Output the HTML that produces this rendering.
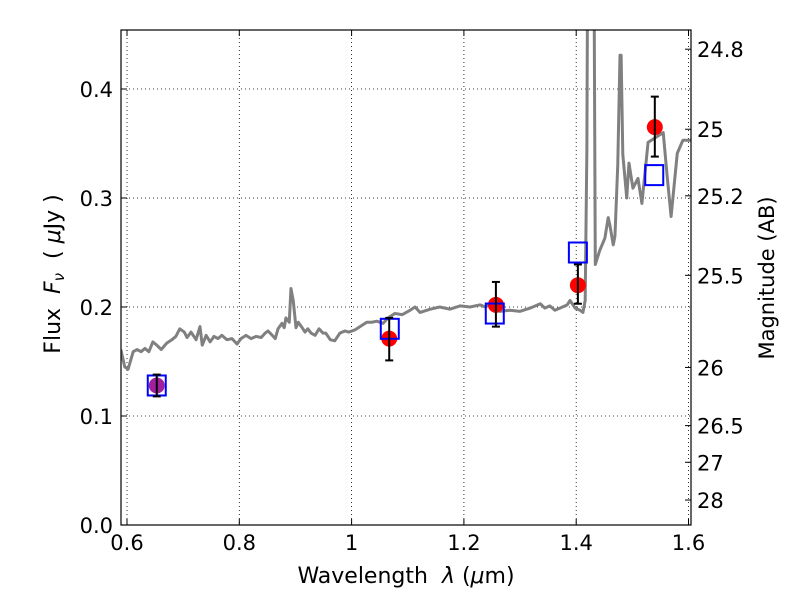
<!DOCTYPE html>
<html><head><meta charset="utf-8"><style>
body{margin:0;background:#fff;}
svg text{font-family:"DejaVu Sans","Liberation Sans",sans-serif;}
</style></head><body>
<svg id="chart" width="800" height="600" xmlns="http://www.w3.org/2000/svg">
<rect width="800" height="600" fill="#fff"/>
<defs><clipPath id="clip"><rect x="121" y="30" width="570" height="495"/></clipPath></defs>
<g id="grid"></g>
<g id="spec" clip-path="url(#clip)"></g>
<g id="marks"></g>
<rect x="121" y="30" width="570" height="495" fill="none" stroke="#000" stroke-width="1.2"/>
<g id="axes"></g>
<text x="406" y="583" font-size="22" text-anchor="middle">Wavelength&#160;&#160;<tspan font-style="italic">λ</tspan> (<tspan font-style="italic">μ</tspan>m)</text>
<text transform="translate(60,274) rotate(-90)" font-size="22" text-anchor="middle">Flux&#160;&#160;<tspan font-style="italic">F<tspan font-size="15" dy="4">ν</tspan></tspan><tspan dy="-4">&#160;&#160;( </tspan><tspan font-style="italic">μ</tspan>Jy )</text>
<text transform="translate(774,278) rotate(-90)" font-size="21" text-anchor="middle">Magnitude (AB)</text>
</svg>
<script>
const wavelength=[0.589,0.596,0.602,0.611,0.618,0.625,0.632,0.639,0.646,0.653,0.661,0.671,0.680,0.687,0.694,0.702,0.707,0.714,0.723,0.730,0.734,0.741,0.748,0.755,0.762,0.769,0.778,0.787,0.796,0.803,0.812,0.821,0.830,0.839,0.846,0.851,0.855,0.864,0.869,0.876,0.880,0.883,0.889,0.892,0.896,0.901,0.905,0.912,0.917,0.922,0.928,0.935,0.942,0.949,0.954,0.962,0.970,0.979,0.988,0.995,1.006,1.015,1.027,1.036,1.045,1.056,1.065,1.077,1.090,1.104,1.113,1.122,1.140,1.157,1.175,1.193,1.211,1.229,1.238,1.246,1.255,1.264,1.282,1.300,1.318,1.336,1.344,1.353,1.362,1.371,1.384,1.389,1.398,1.407,1.412,1.416,1.419,1.421,1.431,1.434,1.442,1.451,1.457,1.460,1.466,1.469,1.474,1.478,1.480,1.483,1.490,1.494,1.501,1.510,1.517,1.528,1.540,1.555,1.562,1.569,1.580,1.590,1.604];
const fluxModel=[0.161,0.145,0.143,0.159,0.161,0.159,0.162,0.159,0.168,0.165,0.161,0.167,0.170,0.173,0.180,0.177,0.172,0.177,0.170,0.182,0.165,0.174,0.168,0.173,0.171,0.174,0.170,0.171,0.166,0.171,0.174,0.171,0.173,0.172,0.176,0.178,0.176,0.171,0.180,0.185,0.181,0.190,0.186,0.217,0.206,0.181,0.186,0.181,0.177,0.180,0.176,0.174,0.180,0.176,0.176,0.170,0.169,0.176,0.178,0.177,0.179,0.182,0.186,0.186,0.187,0.185,0.190,0.194,0.193,0.197,0.200,0.195,0.198,0.200,0.198,0.201,0.200,0.202,0.200,0.202,0.199,0.196,0.197,0.196,0.199,0.203,0.199,0.201,0.197,0.199,0.202,0.206,0.199,0.197,0.195,0.206,0.344,0.600,0.600,0.239,0.252,0.263,0.282,0.275,0.257,0.265,0.330,0.431,0.431,0.340,0.300,0.332,0.309,0.318,0.295,0.351,0.355,0.360,0.320,0.283,0.341,0.353,0.353];
const obsWl=[0.653,1.067,1.257,1.403,1.540];
const obsFlux=[0.128,0.171,0.202,0.220,0.365];
const obsErrLo=[0.118,0.151,0.182,0.203,0.338];
const obsErrHi=[0.138,0.190,0.223,0.239,0.393];
const modelWl=[0.653,1.068,1.255,1.403,1.539];
const modelFlux=[0.128,0.180,0.194,0.250,0.321];
const xTicks=[0.6,0.8,1.0,1.2,1.4,1.6];
const xTickLabels=["0.6","0.8","1","1.2","1.4","1.6"];
const yTicks=[0,0.1,0.2,0.3,0.4];
const yTickLabels=["0.0","0.1","0.2","0.3","0.4"];
const magTicks=[24.8,25,25.2,25.5,26,26.5,27,28];
const magTickLabels=["24.8","25","25.2","25.5","26","26.5","27","28"];

const X=v=>127+(v-0.6)*561.5;
const Y=v=>525-v*1090;
const NS="http://www.w3.org/2000/svg";
function mk(parent,tag,attrs){const e=document.createElementNS(NS,tag);for(const k in attrs)e.setAttribute(k,attrs[k]);parent.appendChild(e);return e;}
const grid=document.getElementById('grid'),axes=document.getElementById('axes');
xTicks.forEach((t,i)=>{
  const l=mk(grid,'line',{x1:X(t),x2:X(t),y1:30,y2:525,stroke:'#000','stroke-width':0.8,'stroke-dasharray':'1,3'});
  
  
  mk(axes,'line',{x1:X(t),x2:X(t),y1:525,y2:519,stroke:'#000'});
  mk(axes,'line',{x1:X(t),x2:X(t),y1:30,y2:36,stroke:'#000'});
  const tx=mk(axes,'text',{x:X(t),y:550,'font-size':21,'text-anchor':'middle'});tx.textContent=xTickLabels[i];
  
  
});
yTicks.forEach((t,i)=>{
  const l=mk(grid,'line',{x1:121,x2:691,y1:Y(t),y2:Y(t),stroke:'#000','stroke-width':0.8,'stroke-dasharray':'1,3'});
  
  
  mk(axes,'line',{x1:121,x2:127,y1:Y(t),y2:Y(t),stroke:'#000'});
  const tx=mk(axes,'text',{x:113,y:Y(t)+8,'font-size':21,'text-anchor':'end'});tx.textContent=yTickLabels[i];
  
  
});
magTicks.forEach((m,i)=>{
  const f=Math.pow(10,(23.9-m)/2.5);const y=Y(f);
  mk(axes,'line',{x1:691,x2:685,y1:y,y2:y,stroke:'#000'});
  const tx=mk(axes,'text',{x:697,y:y+8,'font-size':21});tx.textContent=magTickLabels[i];
  
  
});
const spec=document.getElementById('spec');
const p=mk(spec,'polyline',{points:wavelength.map((w,i)=>X(w)+','+Y(fluxModel[i])).join(' '),fill:'none',stroke:'#808080','stroke-width':3,'stroke-linejoin':'round'});


const marks=document.getElementById('marks');
obsWl.forEach((w,i)=>{
  const x=X(w);
  const c=mk(marks,'circle',{cx:x,cy:Y(obsFlux[i]),r:8,fill:i===0?'#a020a0':'#ff0000'});
  
  
});
modelWl.forEach((w,i)=>{
  const r=mk(marks,'rect',{x:X(w)-9,y:Y(modelFlux[i])-10,width:18,height:20,fill:'none',stroke:'#0000ff','stroke-width':2});
  
  
});
obsWl.forEach((w,i)=>{
  const x=X(w);
  const g=mk(marks,'g',{stroke:'#000','stroke-width':2});
  
  
  mk(g,'line',{x1:x,x2:x,y1:Y(obsErrLo[i]),y2:Y(obsErrHi[i])});
  mk(g,'line',{x1:x-4,x2:x+4,y1:Y(obsErrLo[i]),y2:Y(obsErrLo[i])});
  mk(g,'line',{x1:x-4,x2:x+4,y1:Y(obsErrHi[i]),y2:Y(obsErrHi[i])});
});
</script>
</body></html>
